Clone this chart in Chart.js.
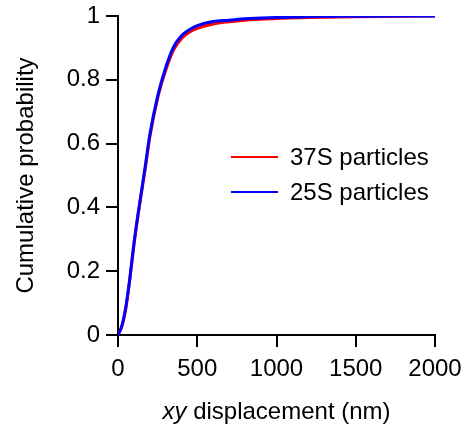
<!DOCTYPE html>
<html>
<head>
<meta charset="utf-8">
<script src="https://cdn.jsdelivr.net/npm/chart.js@4/dist/chart.umd.min.js"></script>
<style>
  html, body { margin: 0; padding: 0; background: #fff; }
  #wrap { position: relative; width: 465px; height: 431px; }
</style>
</head>
<body>
<div id="wrap"><canvas id="cdfChart" width="465" height="431"></canvas></div>
<script>
// Displacement grid (nm) and cumulative probabilities
const displacement = [0, 25, 50, 75, 100, 125, 150, 175, 200, 250, 300, 350, 400, 450, 500, 600, 700, 800, 1000, 1200, 1500, 2000];
const cdf37S = [0, 0.028, 0.085, 0.175, 0.28, 0.37, 0.452, 0.532, 0.618, 0.742, 0.828, 0.893, 0.929, 0.949, 0.961, 0.975, 0.982, 0.987, 0.992, 0.995, 0.998, 1];
const cdf25S = [0, 0.03, 0.09, 0.18, 0.285, 0.375, 0.456, 0.54, 0.626, 0.749, 0.837, 0.902, 0.938, 0.957, 0.970, 0.983, 0.987, 0.991, 0.995, 0.998, 0.999, 1];
const xTicks = [0, 500, 1000, 1500, 2000];
const yTicks = [0, 0.2, 0.4, 0.6, 0.8, 1];

const FONT = '"Liberation Sans", Arial, sans-serif';

function toPoints(ys) {
    return displacement.map((x, i) => ({ x: x, y: ys[i] }));
}

// Legend drawn inside the plot, middle right; x title with italic "xy"
const overlayText = {
    id: 'overlayText',
    afterDraw(chart) {
        const ctx = chart.ctx;
        const rows = [157, 192];
        ctx.save();
        ctx.font = '24px ' + FONT;
        ctx.textBaseline = 'middle';
        ctx.fillStyle = '#000';
        chart.data.datasets.forEach((ds, i) => {
            const y = rows[i];
            ctx.strokeStyle = ds.borderColor;
            ctx.lineWidth = 2;
            ctx.beginPath();
            ctx.moveTo(231, y);
            ctx.lineTo(278, y);
            ctx.stroke();
            ctx.fillText(ds.label, 290, y + 1);
        });

        // x axis title
        const area = chart.chartArea;
        const cx = (area.left + area.right) / 2;
        const italicPart = 'xy';
        const rest = ' displacement (nm)';
        ctx.font = 'italic 24px ' + FONT;
        const w1 = ctx.measureText(italicPart).width;
        ctx.font = '24px ' + FONT;
        const w2 = ctx.measureText(rest).width;
        const x0 = cx - (w1 + w2) / 2;
        const ty = 412;
        ctx.textAlign = 'left';
        ctx.font = 'italic 24px ' + FONT;
        ctx.fillText(italicPart, x0, ty);
        ctx.font = '24px ' + FONT;
        ctx.fillText(rest, x0 + w1, ty);
        ctx.restore();
    }
};

const ctx = document.getElementById('cdfChart').getContext('2d');
new Chart(ctx, {
    type: 'line',
    data: {
        datasets: [
            {
                label: '37S particles',
                data: toPoints(cdf37S),
                borderColor: '#ff0000',
                borderWidth: 3,
                pointRadius: 0,
                order: 1,
                cubicInterpolationMode: 'monotone'
            },
            {
                label: '25S particles',
                data: toPoints(cdf25S),
                borderColor: '#0000ff',
                borderWidth: 3,
                pointRadius: 0,
                order: 0,
                cubicInterpolationMode: 'monotone'
            }
        ]
    },
    options: {
        responsive: false,
        animation: false,
        layout: { padding: { top: 16, right: 30, bottom: 0, left: 0 } },
        plugins: {
            legend: { display: false },
            tooltip: { enabled: false }
        },
        scales: {
            x: {
                type: 'linear',
                min: 0,
                max: 2000,
                afterBuildTicks: s => { s.ticks = xTicks.map(v => ({ value: v })); },
                afterFit: s => { s.height = 96; s.paddingLeft = 0; s.paddingRight = 0; },
                border: { display: true, color: '#000', width: 2 },
                grid: { drawOnChartArea: false, drawTicks: true, tickLength: 12, color: '#000', lineWidth: 2 },
                ticks: { color: '#000', font: { family: FONT, size: 24 }, padding: 8, maxRotation: 0, callback: v => String(v) },
                title: { display: false }
            },
            y: {
                min: 0,
                max: 1,
                afterBuildTicks: s => { s.ticks = yTicks.map(v => ({ value: v })); },
                afterFit: s => { s.width = 118; s.paddingTop = 0; s.paddingBottom = 0; },
                border: { display: true, color: '#000', width: 2 },
                grid: { drawOnChartArea: false, drawTicks: true, tickLength: 12, color: '#000', lineWidth: 2 },
                ticks: { color: '#000', font: { family: FONT, size: 24 }, padding: 6, callback: v => String(v) },
                title: {
                    display: true,
                    text: 'Cumulative probability',
                    color: '#000',
                    font: { family: FONT, size: 24 },
                    padding: { top: 12, bottom: 4 }
                }
            }
        }
    },
    plugins: [overlayText]
});
</script>
</body>
</html>
